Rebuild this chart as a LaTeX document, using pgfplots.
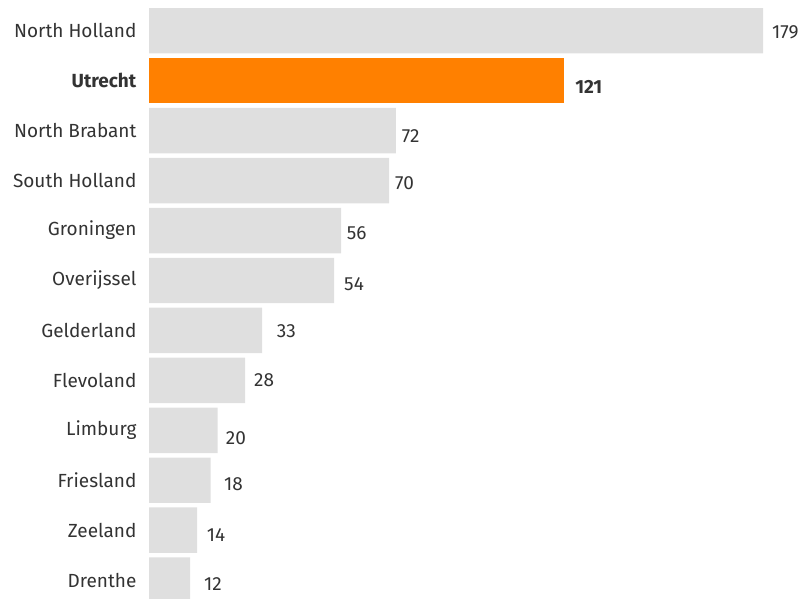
\documentclass[border=0pt]{standalone}
\usepackage{pgfplots}
\pgfplotsset{compat=1.18}
\usepackage{pgfplotstable}
\usepackage{fontspec}
\setmainfont{Fira Sans}
\definecolor{barg}{HTML}{DFDFDF}
\definecolor{baro}{HTML}{FF8000}
\definecolor{txt}{HTML}{333333}
\pgfplotstableread{
x y dx dy
179 0 9 1
72 2 5.7 5.7
70 3 5.9 2.4
56 4 5.6 2.5
54 5 9.8 3.9
33 6 14.5 0.6
28 7 9 0
20 8 8.1 7.7
18 9 13.3 3.5
14 10 9.7 4.6
12 11 13.8 4
}\grey
\pgfplotstableread{
x y dx dy
121 1 11 6.3
}\orange
\begin{document}
\begin{tikzpicture}[x=1pt,y=1pt]
\useasboundingbox (0,0) rectangle (806,599);
\begin{axis}[
  at={(149pt,593.2pt)}, anchor=north west,
  scale only axis, width=614pt, height=599.3pt,
  xmin=0, xmax=179, ymin=-0.5, ymax=11.5, y dir=reverse,
  axis line style={draw=none},
  major tick length=0pt,
  xtick=\empty,
  ytick={0,...,11},
  yticklabels={North Holland,\textbf{Utrecht},North Brabant,South Holland,Groningen,Overijssel,Gelderland,Flevoland,Limburg,Friesland,Zeeland,Drenthe},
  yticklabel style={font=\fontsize{19}{21}\selectfont, text=txt, anchor=east, xshift=-9pt},
  xbar, bar width=0.91, /pgf/bar shift=0pt,
  /pgf/number format/assume math mode=true,
  point meta=x,
  nodes near coords,
  visualization depends on={\thisrow{dx}\as\dx},
  visualization depends on={\thisrow{dy}\as\dy},
  every node near coord/.append style={font=\fontsize{19}{21}\selectfont, text=txt, anchor=west, inner sep=0pt, xshift=\dx pt, yshift=-\dy pt},
  clip=false,
]
\addplot[fill=barg, draw=none] table[x=x, y=y] {\grey};
\addplot[fill=baro, draw=none, every node near coord/.append style={font=\fontsize{19}{21}\selectfont\bfseries}] table[x=x, y=y] {\orange};
\end{axis}
\end{tikzpicture}
\end{document}
